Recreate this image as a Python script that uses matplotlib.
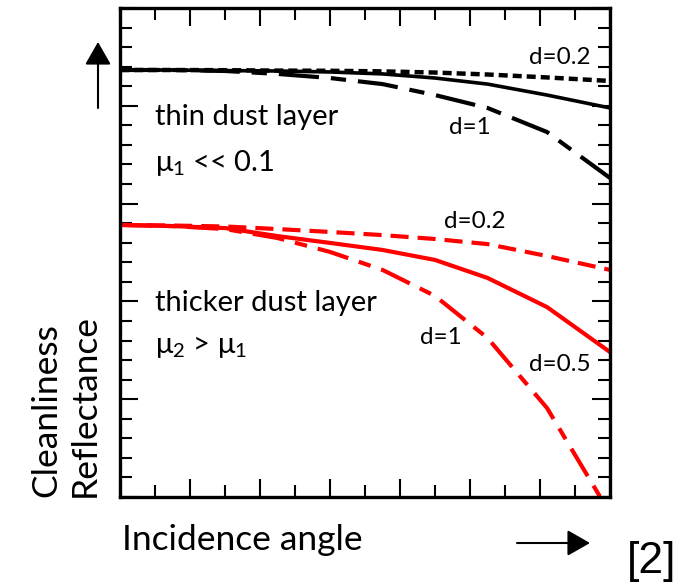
import matplotlib
matplotlib.use("Agg")
import matplotlib.pyplot as plt
from matplotlib.ticker import MultipleLocator

plt.rcParams['lines.scale_dashes'] = False
plt.rcParams['font.family'] = ['Lato', 'DejaVu Sans']

# incidence angle (arbitrary units along the axis)
angle = [0, 1.5, 3, 4.5, 6, 7.5, 9, 10.5, 12.2, 14]

# thin dust layer (black)
thin_d02 = [21.83, 21.83, 21.82, 21.80, 21.79, 21.76, 21.70, 21.60, 21.45, 21.27]
thin_d05 = [21.83, 21.83, 21.80, 21.78, 21.73, 21.63, 21.42, 21.11, 20.55, 19.89]
thin_d1 = [21.83, 21.83, 21.78, 21.63, 21.42, 21.11, 20.55, 19.89, 18.66, 16.31]

# thicker dust layer (red)
thick_d02 = [13.91, 13.88, 13.83, 13.70, 13.55, 13.39, 13.19, 12.93, 12.32, 11.61]
thick_d05 = [13.91, 13.85, 13.75, 13.34, 12.99, 12.63, 12.12, 11.20, 9.71, 7.41]
angle_d1 = [0, 1.5, 3, 4.5, 6, 7.5, 9, 10.5, 12.2, 13.77]
thick_d1 = [13.91, 13.85, 13.70, 13.24, 12.53, 11.61, 10.28, 8.13, 4.55, -0.15]

fig = plt.figure(figsize=(6.91, 5.85), dpi=100)
W, H = 691, 585
ax = fig.add_axes([120 / W, (H - 497) / H, 490 / W, 489 / H])

ax.plot(angle, thin_d02, color='black', lw=3.2, dashes=(6.5, 3.6), solid_capstyle='butt')
ax.plot(angle, thin_d05, color='black', lw=2.6)
ax.plot(angle, thin_d1, color='black', lw=3.0, dashes=(29, 8.6, 11, 8.6))

ax.plot(angle, thick_d02, color='red', lw=3.0, dashes=(13, 6.5))
ax.plot(angle, thick_d05, color='red', lw=3.0)
ax.plot(angle_d1, thick_d1, color='red', lw=3.0, dashes=(23, 8, 9, 8))

ax.set_xlim(0, 14)
ax.set_ylim(0, 25)
ax.xaxis.set_major_locator(MultipleLocator(2))
ax.xaxis.set_minor_locator(MultipleLocator(1))
ax.yaxis.set_major_locator(MultipleLocator(5))
ax.yaxis.set_minor_locator(MultipleLocator(1))
ax.tick_params(which='both', direction='in', top=True, right=True,
               labelbottom=False, labelleft=False, width=1.5, color='black')
ax.tick_params(which='major', length=13)
ax.tick_params(which='minor', length=8.6)
for s in ax.spines.values():
    s.set_linewidth(2.4)

big = 21
small = 17.5
ax.text(1.0, 19.43, 'thin dust layer', fontsize=big, va='center')
ax.text(1.0, 17.08, r'$\mathregular{\mu_1}$ << 0.1', fontsize=big, va='center')
ax.text(1.0, 9.92, 'thicker dust layer', fontsize=big, va='center')
ax.text(1.0, 7.67, r'$\mathregular{\mu_2}$ > $\mathregular{\mu_1}$', fontsize=big, va='center')

ax.text(12.57, 22.49, 'd=0.2', fontsize=small, ha='center', va='center')
ax.text(10.0, 18.87, 'd=1', fontsize=small, ha='center', va='center')
ax.text(10.14, 14.06, 'd=0.2', fontsize=small, ha='center', va='center')
ax.text(9.17, 8.13, 'd=1', fontsize=small, ha='center', va='center')
ax.text(12.57, 6.75, 'd=0.5', fontsize=small, ha='center', va='center')

# axis captions and direction arrows
fig.text(46 / W, (H - 497) / H, 'Cleanliness', rotation=90, fontsize=25.5,
         ha='center', va='bottom')
fig.text(85 / W, (H - 497) / H, 'Reflectance', rotation=90, fontsize=25.5,
         ha='center', va='bottom')
fig.text(122 / W, (H - 540) / H, 'Incidence angle', fontsize=25.5,
         ha='left', va='center')
fig.text(652 / W, (H - 561) / H, '[2]', fontsize=32, family='Liberation Sans',
         ha='center', va='center')

arrow = dict(arrowstyle='-|>,head_length=0.7,head_width=0.4', lw=1.5,
             color='black', shrinkA=0, shrinkB=0, mutation_scale=20)
fig.add_artist(plt.Annotation('', xy=(590 / W, (H - 543) / H),
                              xytext=(517 / W, (H - 543) / H),
                              xycoords='figure fraction', arrowprops=arrow))
fig.add_artist(plt.Annotation('', xy=(98 / W, (H - 42) / H),
                              xytext=(98 / W, (H - 108) / H),
                              xycoords='figure fraction', arrowprops=arrow))

fig.savefig('out.png', dpi=100)
